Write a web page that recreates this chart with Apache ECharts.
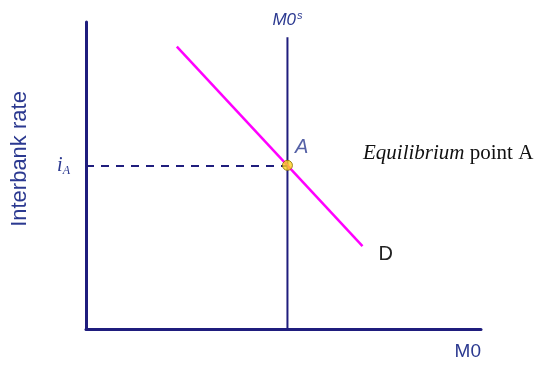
<!DOCTYPE html>
<html>
<head>
<meta charset="utf-8">
<script src="https://cdn.jsdelivr.net/npm/echarts@6/dist/echarts.min.js"></script>
<style>
  html, body { margin: 0; padding: 0; background: #fff; }
  #chart { width: 535px; height: 365px; }
</style>
</head>
<body>
<div id="chart"></div>
<script>
// demand curve D, money supply M0s and the equilibrium point
var demandLine = [[23, 92], [70, 27]]
var supplyLine = [[51, 0], [51, 95]]
var equilibrium = [51, 53.3]

var navy = '#1f1d7d'
var textBlue = '#2b3990'

var chart = echarts.init(document.getElementById('chart'))
chart.setOption({
  animation: false,
  grid: { left: 86, right: 54, top: 22, bottom: 36 },
  xAxis: {
    type: 'value',
    min: 0,
    max: 100,
    name: 'M0',
    nameLocation: 'end',
    nameGap: 0,
    nameTextStyle: {
      color: textBlue,
      fontFamily: 'Liberation Sans',
      fontSize: 19,
      align: 'right',
      verticalAlign: 'top',
      padding: [13, 0, 0, 0]
    },
    axisLine: { lineStyle: { color: navy, width: 3 } },
    axisTick: { show: false },
    axisLabel: { show: false },
    splitLine: { show: false }
  },
  yAxis: {
    type: 'value',
    min: 0,
    max: 100,
    axisLine: { show: true, lineStyle: { color: navy, width: 3 } },
    axisTick: { show: false },
    axisLabel: { show: false },
    splitLine: { show: false }
  },
  graphic: [
    {
      type: 'text',
      x: 20,
      y: 159,
      rotation: Math.PI / 2,
      style: {
        text: 'Interbank rate',
        fill: textBlue,
        font: '22px "Liberation Sans"',
        align: 'center',
        verticalAlign: 'middle'
      }
    },
    {
      type: 'text',
      x: 363,
      y: 153,
      style: {
        text: '{i|Equilibrium}{r| point A}',
        verticalAlign: 'middle',
        rich: {
          i: { fontStyle: 'italic', fontFamily: 'Liberation Serif', fontSize: 21, fill: '#111' },
          r: { fontFamily: 'Liberation Serif', fontSize: 21, fill: '#111' }
        }
      }
    }
  ],
  series: [
    {
      name: 'D',
      type: 'line',
      data: demandLine,
      symbol: 'none',
      lineStyle: { color: '#ff00ff', width: 2.5 },
      endLabel: {
        show: true,
        formatter: 'D',
        color: '#222',
        fontFamily: 'Liberation Sans',
        fontSize: 20,
        offset: [8, 8]
      },
      z: 3
    },
    {
      name: 'M0s',
      type: 'line',
      data: supplyLine,
      symbol: 'none',
      lineStyle: { color: navy, width: 2 },
      markPoint: {
        silent: true,
        symbol: 'circle',
        symbolSize: 0,
        label: {
          show: true,
          position: 'top',
          distance: 8,
          formatter: '{m|M0}{s|s}',
          rich: {
            m: { fontFamily: 'Liberation Sans', fontStyle: 'italic', fontSize: 17, color: textBlue },
            s: { fontFamily: 'Liberation Sans', fontStyle: 'italic', fontSize: 11, color: textBlue, verticalAlign: 'top', padding: [0, 0, 8, 1] }
          }
        },
        data: [{ coord: supplyLine[1] }]
      },
      markLine: {
        silent: true,
        symbol: 'none',
        lineStyle: { color: navy, type: [8, 7], width: 2 },
        label: {
          position: 'start',
          distance: 16,
          formatter: '{i|i}{a|A}',
          rich: {
            i: { fontFamily: 'Liberation Serif', fontStyle: 'italic', fontSize: 20, color: textBlue },
            a: { fontFamily: 'Liberation Serif', fontStyle: 'italic', fontSize: 12, color: textBlue, padding: [10, 0, 0, 0] }
          }
        },
        data: [[{ coord: [0, equilibrium[1]] }, { coord: equilibrium }]]
      },
      z: 2
    },
    {
      name: 'A',
      type: 'scatter',
      data: [equilibrium],
      symbolSize: 10,
      itemStyle: { color: '#ffd21f', borderColor: '#8a6d00', borderWidth: 1 },
      label: {
        show: true,
        formatter: 'A',
        position: 'right',
        offset: [-3, -18],
        fontFamily: 'Liberation Sans',
        fontStyle: 'italic',
        fontSize: 20,
        color: textBlue
      },
      z: 5
    }
  ]
})
</script>
</body>
</html>
